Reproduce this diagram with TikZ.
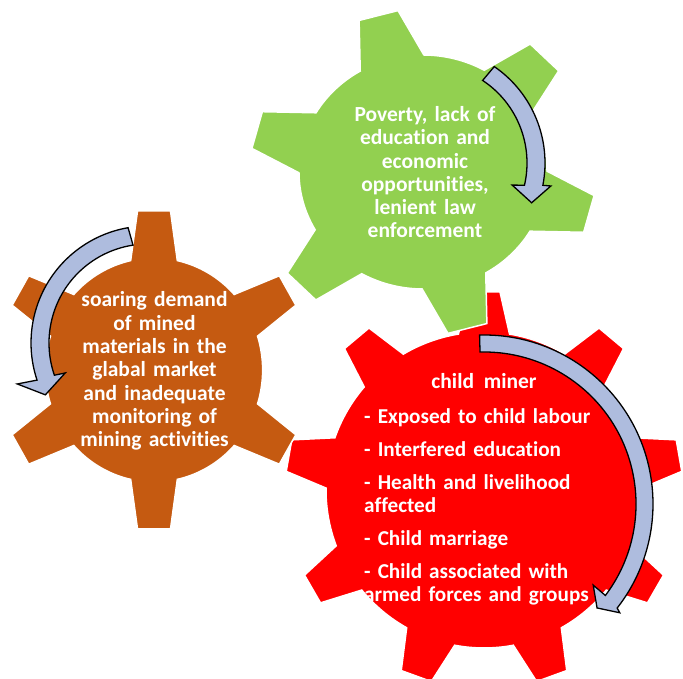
\documentclass[tikz,border=0pt]{standalone}
\usepackage{fontspec}
\setmainfont{Carlito}[Ligatures=NoCommon]
\usetikzlibrary{calc}
\definecolor{gGreen}{HTML}{92D050}
\definecolor{gOrange}{HTML}{C55A11}
\definecolor{gRed}{HTML}{FF0000}
\definecolor{arrowBlue}{RGB}{174,188,222}
\tikzset{
  gearshape/.style={draw=white,line width=1.5pt,line join=miter},
  cyclearrow/.style={draw=black,fill=arrowBlue,line width=1.3pt,line join=miter},
  geartext/.style={text=white,inner sep=0pt,font=\fontsize{21.5}{23.2}\selectfont\bfseries},
}
% #1 cx  #2 cy (image)  #3 xscale  #4 teeth  #5 first angle  #6 tip r  #7 body r  #8 base half angle  #9 tip half width
\newcommand\drawmygear[9]{%
  \begin{scope}[shift={(#1,679-#2)},xscale=#3]
    \path[gearshape,fill=\mygearcolor] (#5-#8:#7)
      \foreach \k [evaluate=\k as \a using #5+(\k-1)*360/#4,
                   evaluate=\k as \b using #5+\k*360/#4] in {1,...,#4} {
        -- ($(\a:#6)+(\a-90:#9)$) -- ($(\a:#6)+(\a+90:#9)$) -- (\a+#8:#7)
        arc[start angle=\a+#8, end angle=\b-#8, radius=#7]
      } -- cycle;
  \end{scope}}
\begin{document}
\begin{tikzpicture}[x=1pt,y=1pt]
\useasboundingbox (0,0) rectangle (683,679);
% gears
\def\mygearcolor{gRed}
\drawmygear{484}{490}{1}{9}{90}{198}{158}{9.3}{16}
\def\mygearcolor{gOrange}
\drawmygear{154}{370}{0.97}{6}{90}{159}{112}{12.4}{17}
\def\mygearcolor{gGreen}
\drawmygear{423}{172}{1.06}{6}{105}{162}{117}{15.4}{19}
% arrows
\begin{scope}[shift={(428,679-163)}]
  \path[cyclearrow] (55.5:117) arc[start angle=55.5,end angle=-11,radius=117]
    -- (-10.6:125) -- (-21:111) -- (-14.7:87) -- (-13:99)
    arc[start angle=-13,end angle=56.5,radius=99] -- cycle;
\end{scope}
\begin{scope}[shift={(148,679-343)}]
  \path[cyclearrow] (99.8:117) arc[start angle=99.8,end angle=198.5,radius=117]
    -- (197.4:137) -- (206.8:115) -- (199.9:88) -- (199:99)
    arc[start angle=199,end angle=98.7,radius=99] -- cycle;
\end{scope}
\begin{scope}[shift={(484,679-504)}]
  \path[cyclearrow] (91.5:169) arc[start angle=91.5,end angle=-38,radius=169]
    -- (-38.7:174) -- (-42.6:153.6) -- (-36.6:136) -- (-37:152)
    arc[start angle=-37,end angle=91.5,radius=152] -- cycle;
\end{scope}
% texts
\node[geartext,anchor=base,text width=220pt,align=center] (tgreen) at (425,679-121.7)
  {Poverty, lack of\\education and\\economic\\opportunities,\\lenient law\\enforcement};
\node[geartext,anchor=base,text width=220pt,align=center,font=\fontsize{21.5}{23.3}\selectfont\bfseries] (torange) at (154.5,679-307)
  {soaring demand\\of mined\\materials in the\\glabal market\\and inadequate\\monitoring of\\mining activities};
\node[geartext,anchor=base] (tredtitle) at (484,679-389) {child\ \ miner};
\node[geartext,anchor=base west,text width=260pt,align=left,font=\fontsize{21.2}{22.7}\selectfont\bfseries] (tredlist) at (364,679-423.3)
  {- Exposed to child labour\\[10.5pt]- Interfered education\\[10.5pt]- Health and livelihood\\affected\\[10.5pt]- Child marriage\\[10.5pt]- Child associated with\\armed forces and groups};
\end{tikzpicture}
\end{document}
